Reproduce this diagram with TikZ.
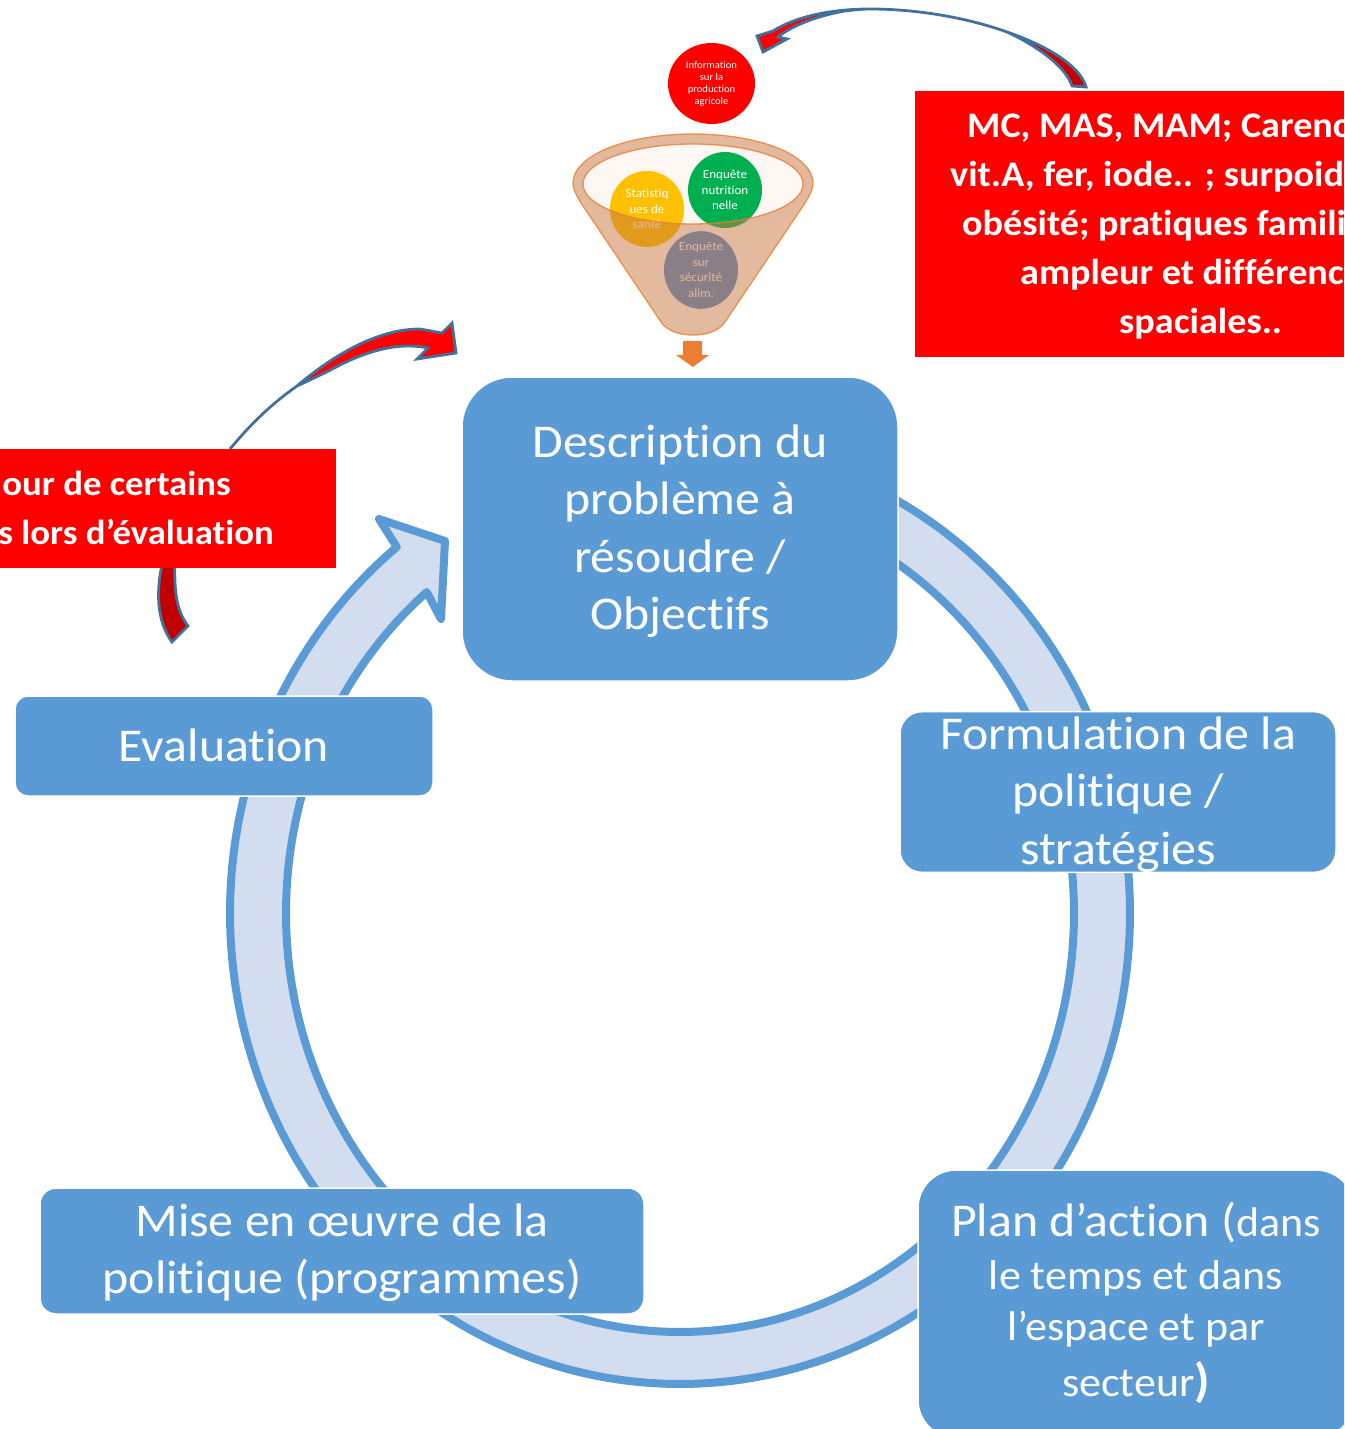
\documentclass[tikz,border=0pt]{standalone}
\usepackage{fontspec}
\usetikzlibrary{shapes.geometric}
\setmainfont[Ligatures={TeX,NoCommon},FakeStretch=1.06]{Carlito}
\definecolor{boxblue}{HTML}{5B9BD5}
\definecolor{bandfill}{HTML}{D2DEEF}
\definecolor{arrowline}{HTML}{41719C}
\definecolor{darkred}{HTML}{C00000}
\definecolor{funnelline}{HTML}{ED7D31}
\definecolor{funnelfront}{HTML}{C7753D}
\definecolor{discyellow}{HTML}{FFC000}
\definecolor{discgreen}{HTML}{00B050}
\definecolor{discgrey}{HTML}{4D8BD3}
\newcommand{\bigf}{\fontsize{47}{57.3}\selectfont}
\newcommand{\midf}{\fontsize{41.5}{53}\selectfont}
\tikzset{
  stagebox/.style={draw=white,line width=1.5pt,fill=boxblue,text=white,align=center,font=\bigf,inner sep=0pt},
  redbox/.style={fill=red,draw=none,inner sep=0pt},
  redtext/.style={text=white,font=\fontsize{36}{49}\selectfont\bfseries,inner sep=0pt},
  curvearrow/.style={draw=arrowline,line width=2.8pt,line join=miter},
  disc/.style={ellipse,inner sep=0pt,text=white,align=center,font=\fontsize{12.3}{15.5}\selectfont,minimum width=74pt,minimum height=76pt},
}
\begin{document}
\begin{tikzpicture}[x=1pt,y=-1pt]
\useasboundingbox (0,0) rectangle (1344,1429);
\clip (0,0) rectangle (1344,1429);
% circular band with head
\coordinate (barbA) at (379,519);
\coordinate (tipA) at (445,541);
\coordinate (barbB) at (441,619);
\draw[draw=boxblue,fill=bandfill,line width=8pt,line join=round]
  plot[domain=65:-231,samples=120,smooth] ({680+450*cos(\x)},{913-471*sin(\x)})
  -- (barbA) -- (tipA) -- (barbB)
  -- plot[domain=-230:65,samples=120,smooth] ({680+394*cos(\x)},{913-419*sin(\x)})
  -- cycle;
% curved arrows
\draw[curvearrow,left color=red,right color=darkred,middle color=red]
  (1086,87) .. controls (1080,65) and (1045,45) .. (1007,32)
  .. controls (965,17) and (915,9) .. (870,9)
  .. controls (830,9) and (795,17) .. (773,31)
  -- (757,36) -- (763,52) -- (787,39) -- (778,37)
  .. controls (790,27) and (815,16) .. (845,11)
  .. controls (853,10) and (862,9) .. (870,9)
  .. controls (915,9) and (965,17) .. (1007,32)
  .. controls (1035,45) and (1065,65) .. (1072,86) -- cycle;
\draw[curvearrow,fill=red]
  (230,449) .. controls (250,425) and (270,405) .. (297,386)
  .. controls (330,358) and (375,329) .. (420,329)
  -- (442,333) -- (452,323) -- (456,353) -- (417,359) -- (428,348)
  .. controls (400,342) and (370,350) .. (340,365)
  .. controls (325,373) and (310,380) .. (297,386)
  .. controls (270,405) and (250,425) .. (230,449) -- cycle;
\draw[curvearrow,fill=darkred]
  (163,560) .. controls (156,590) and (156,620) .. (172,642)
  -- (188,626) .. controls (176,610) and (174,590) .. (175,560) -- cycle;
% red boxes
\node[redbox,anchor=north west,minimum width=429pt,minimum height=266pt] (redA) at (915,91) {};
\node[redtext,anchor=north west,align=left] (redAtext) at (950,114)
  {\hspace*{17pt}MC, MAS, MAM; Carenc\\vit.A, fer, iode.. ; surpoid\\\hspace*{12pt}obésité; pratiques famili\\\hspace*{70pt}ampleur et différenc\\\hspace*{169pt}spaciales..};
\node[redbox,anchor=north west,minimum width=336pt,minimum height=119pt] (redB) at (0,449) {};
\node[redtext,anchor=north east,align=right,font=\fontsize{34.7}{49}\selectfont\bfseries] (redBtext) at (274,471)
  {our de certains\hspace*{43pt}\\s lors d’évaluation};
% stage boxes
\node[stagebox,rounded corners=50pt,minimum width=436pt,minimum height=304pt] (desc) at (680,529)
  {\rule{0pt}{37pt}Description du\\problème à\\résoudre /\\Objectifs};
\node[stagebox,rounded corners=13pt,minimum width=418pt,minimum height=100pt] (eval) at (224,746) {\raisebox{2pt}{Evaluation}};
\node[stagebox,rounded corners=22pt,minimum width=436pt,minimum height=160pt] (form) at (1118,792)
  {\rule{0pt}{38pt}Formulation de la\\politique /\\stratégies};
\node[stagebox,rounded corners=16pt,minimum width=604pt,minimum height=126pt] (mise) at (342,1251)
  {\rule{0pt}{36pt}Mise en œuvre de la\\politique (programmes)};
\node[stagebox,rounded corners=38pt,minimum width=436pt,minimum height=268pt] (plan) at (1136,1304) {};
\node[text=white,align=center,inner sep=0pt,font=\midf] (plantext) at (1136,1303)
  {{\bigf Plan d’action (}dans\\le temps et dans\\[-2pt]l’espace et par\\[3pt]secteur{\bigf\bfseries )}};
% funnel back
\fill[white] (693,183) ellipse [x radius=120,y radius=49];
\fill[fill=white!94!funnelline] (693,184) ellipse [x radius=110,y radius=40];
\node[disc,fill=discyellow] (health) at (647,209) {Statistiq\\ues de\\santé};
\node[disc,fill=discgreen] (nutri) at (725,190) {Enquête\\nutrition\\nelle};
\node[disc,fill=discgrey] (secu) at (701,270) {Enquête\\sur\\sécurité\\alim.};
% funnel front
\path[fill=funnelfront,fill opacity=0.5,even odd rule]
  (573,183) .. controls (573,156) and (625,134) .. (693,134)
  .. controls (761,134) and (813,156) .. (813,183)
  .. controls (813,190) and (808,198) .. (805,203)
  -- (725,322) .. controls (718,332) and (705,335) .. (693,335)
  .. controls (681,335) and (668,332) .. (661,322)
  -- (581,203) .. controls (578,198) and (573,190) .. (573,183) -- cycle
  (693,184) ellipse [x radius=110,y radius=40];
\draw[funnelline,line width=1.3pt,opacity=.8]
  (573,183) .. controls (573,156) and (625,134) .. (693,134)
  .. controls (761,134) and (813,156) .. (813,183)
  .. controls (813,190) and (808,198) .. (805,203)
  -- (725,322) .. controls (718,332) and (705,335) .. (693,335)
  .. controls (681,335) and (668,332) .. (661,322)
  -- (581,203) .. controls (578,198) and (573,190) .. (573,183) -- cycle
  (693,184) ellipse [x radius=110,y radius=40];
% output arrow
\fill[funnelline] (683,341) -- (702,341) -- (702,355) -- (709,355) -- (693,367) -- (676,355) -- (683,355) -- cycle;
% info circle
\node[disc,fill=red,minimum width=87pt,minimum height=81pt,font=\fontsize{10}{12}\selectfont] (info) at (711.5,83.5)
  {Information\\sur la\\production\\agricole};
\end{tikzpicture}
\end{document}
